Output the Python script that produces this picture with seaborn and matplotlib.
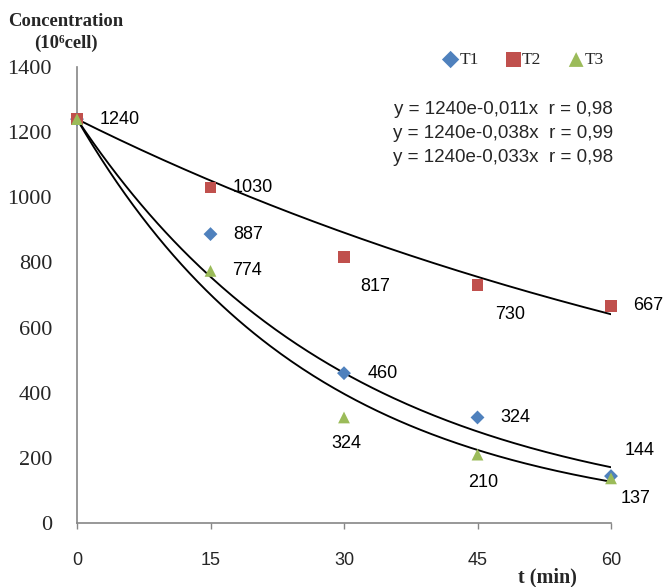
import numpy as np
import pandas as pd
import matplotlib.pyplot as plt
import seaborn as sns

# ----------------------------------------
# Data
# ----------------------------------------
time_min = [0, 15, 30, 45, 60]
series_names = ["T1", "T2", "T3"]
t1_conc = [1240, 887, 460, 324, 144]
t2_conc = [1240, 1030, 817, 730, 667]
t3_conc = [1240, 774, 324, 210, 137]

# exponential fits y = c0 * exp(-k x), for T1, T2, T3
c0 = 1240
decay_k = [0.033, 0.011, 0.038]
equations = [
    "y = 1240e-0,011x  r = 0,98",
    "y = 1240e-0,038x  r = 0,99",
    "y = 1240e-0,033x  r = 0,98",
]

# ----------------------------------------
# Style
# ----------------------------------------
colors = {"T1": "#4F81BD", "T2": "#C0504D", "T3": "#9BBB59"}
markers = {"T1": "D", "T2": "s", "T3": "^"}
msize = {"T1": 50, "T2": 70, "T3": 72}
# label offsets in pixels (dx right, dy down) from each point, None = no label
label_off = {
    "T1": [(23, 0), (23, 0), (24, 0), (23, 0), (14, -26)],
    "T2": [None, (22, 0), (16, 30), (18, 29), (22, 0)],
    "T3": [None, (22, 0), (-13, 26), (-9, 28), (10, 20)],
}

sns.set_style("white")
plt.rcParams["font.family"] = ["Liberation Sans", "DejaVu Sans"]
serif = ["Liberation Serif", "DejaVu Serif"]
sans = ["Liberation Sans", "DejaVu Sans"]

df = pd.DataFrame({
    "t": time_min * 3,
    "conc": t1_conc + t2_conc + t3_conc,
    "series": np.repeat(series_names, len(time_min)),
})

W, H = 665, 587
fig = plt.figure(figsize=(W / 100, H / 100), dpi=100)
ax = fig.add_axes([77 / W, (H - 523) / H, (611 - 77) / W, (523 - 67) / H])

# fitted curves
t_fine = np.linspace(0, 60, 200)
for name, k in zip(series_names, decay_k):
    ax.plot(t_fine, c0 * np.exp(-k * t_fine), color="black", lw=1.35, zorder=2)

# points
for name in series_names:
    sub = df[df["series"] == name]
    sns.scatterplot(data=sub, x="t", y="conc", ax=ax, marker=markers[name],
                    color=colors[name], s=msize[name], edgecolor="none",
                    label=name, zorder=3, clip_on=False)

# data labels
for name in series_names:
    sub = df[df["series"] == name]
    for (t, v), off in zip(zip(sub["t"], sub["conc"]), label_off[name]):
        if off is None:
            continue
        ax.annotate(str(v), (t, v), xytext=(off[0] * 0.72, -off[1] * 0.72),
                    textcoords="offset points", ha="left", va="center",
                    fontsize=13, family=sans, color="black", zorder=4,
                    annotation_clip=False)

ax.set_xlim(0, 60)
ax.set_ylim(0, 1400)
ax.set_xticks(time_min)
ax.set_yticks(range(0, 1401, 200))
ax.set_xlabel("")
ax.set_ylabel("")
for s in ["top", "right"]:
    ax.spines[s].set_visible(False)
for s in ["left", "bottom"]:
    ax.spines[s].set_color("#868686")
    ax.spines[s].set_linewidth(1.2)
ax.tick_params(axis="x", length=4, width=1, color="#868686", pad=17,
               direction="out", bottom=True)
ax.tick_params(axis="y", length=0, pad=18)
for lab in ax.get_xticklabels():
    lab.set_family(sans)
    lab.set_fontsize(13)
for lab in ax.get_yticklabels():
    lab.set_family(serif)
    lab.set_fontsize(16)

# legend
ax.get_legend().remove()
handles, labels = ax.get_legend_handles_labels()
fig.legend(handles, labels, loc="center", bbox_to_anchor=(523 / W, 1 - 60 / H),
           ncol=3, frameon=False, handletextpad=0.0, columnspacing=1.5,
           handlelength=1.0, markerscale=1.25, prop={"family": serif, "size": 12.5})

# fit equations
for i, eq in enumerate(equations):
    fig.text(613 / W, 1 - (109 + 24 * i) / H, eq, ha="right", va="center",
             fontsize=13.5, family=sans)

# axis titles
fig.text(66 / W, 1 - 22 / H, "Concentration", ha="center", va="center",
         fontsize=13.4, family=serif, weight="bold")
fig.text(66 / W, 1 - 43 / H, "(10\u2076cell)", ha="center", va="center",
         fontsize=13.4, family=serif, weight="bold")
fig.text(547 / W, 1 - 577 / H, "t (min)", ha="center", va="center",
         fontsize=14.5, family=serif, weight="bold")

fig.savefig("out.png", dpi=100)
plt.close(fig)
